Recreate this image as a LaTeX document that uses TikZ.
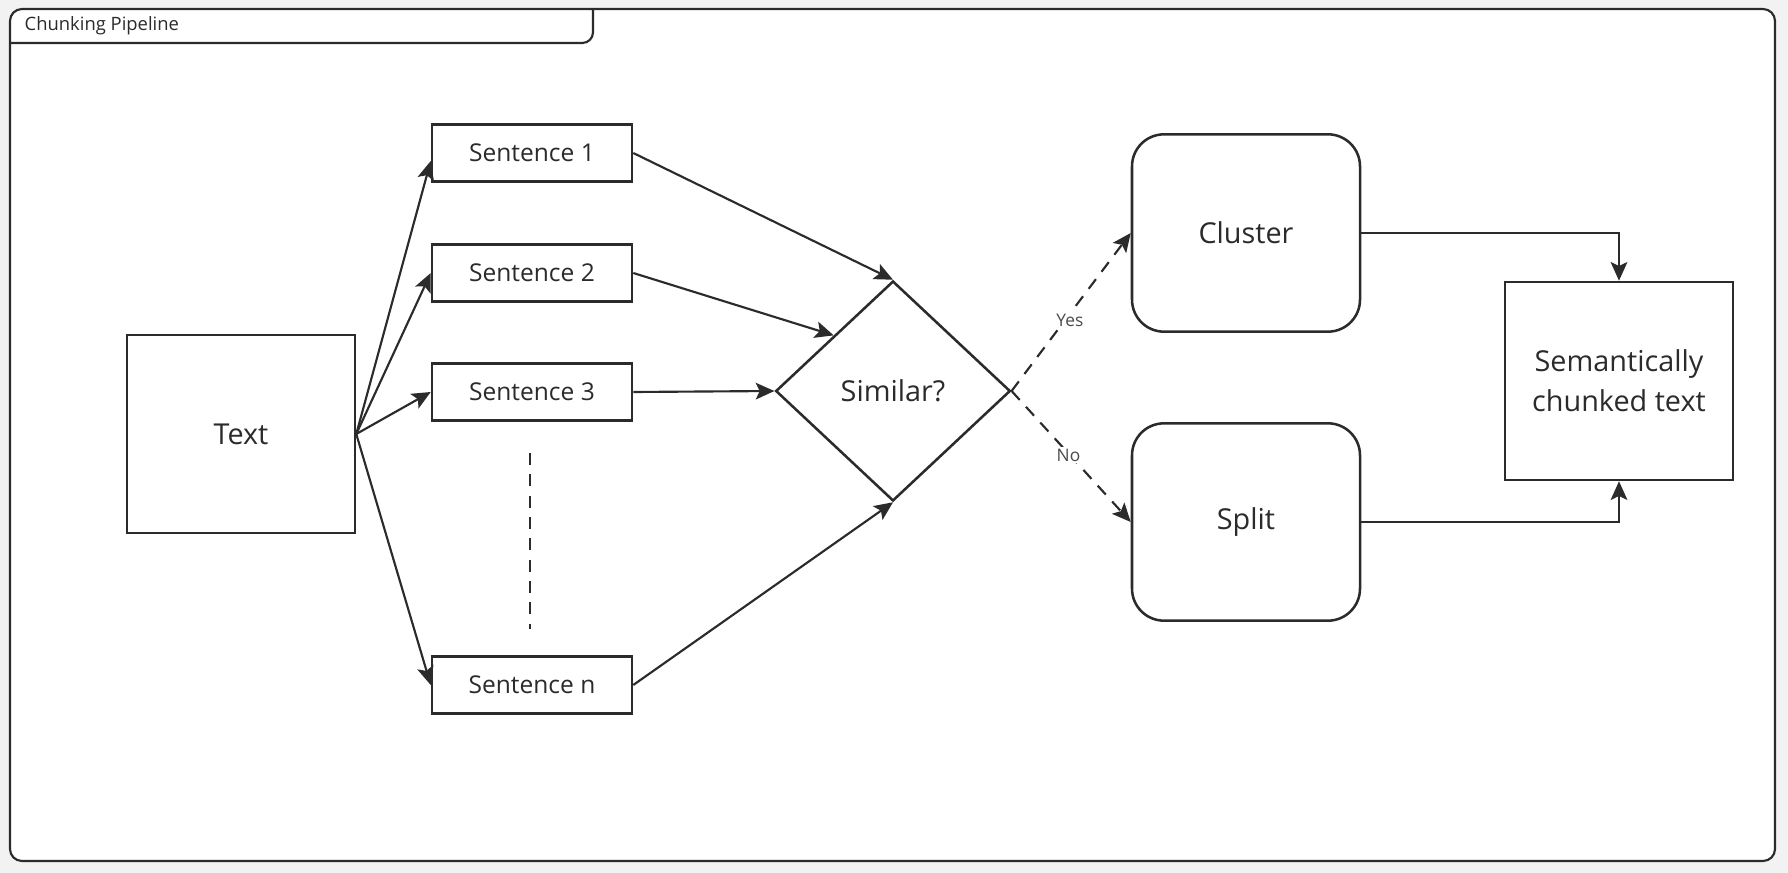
\documentclass[tikz,border=0pt]{standalone}
\usepackage{fontspec}
\setmainfont{Open Sans}
\usetikzlibrary{shapes.geometric,arrows.meta,calc}
\definecolor{ink}{HTML}{2B2B2B}
\definecolor{bg}{HTML}{F2F2F2}
\tikzset{
  box/.style={draw=ink, line width=1.9pt, fill=white, inner sep=2pt, align=center, text=ink},
  bigtxt/.style={font=\fontsize{21.6}{30}\selectfont},
  smalltxt/.style={font=\fontsize{18.4}{22}\selectfont},
  conn/.style={draw=ink, line width=1.6pt, -{Stealth[length=14pt,width=12.5pt,inset=3pt]}},
  dconn/.style={conn, dash pattern=on 9pt off 7pt},
  lbl/.style={font=\fontsize{13}{15}\selectfont, text=ink!85, fill=white, inner sep=1.5pt},
}
\begin{document}
\begin{tikzpicture}[x=0.75pt,y=-0.75pt]
\useasboundingbox (0,0) rectangle (1788,873);
\fill[bg] (0,0) rectangle (1788,873);
% frame
\draw[ink, line width=1.6pt, fill=white, rounded corners=9pt] (10,9) rectangle (1775,861);
\draw[ink, line width=1.6pt, rounded corners=8pt] (10,43) -- (593,43) -- (593,9);
\node[anchor=west, font=\fontsize{13.8}{16}\selectfont, text=ink] (title) at (20,26) {Chunking Pipeline};

% nodes
\node[box, bigtxt, minimum width=171pt, minimum height=148.5pt] (text) at (241,434) {Text};
\node[box, smalltxt, minimum width=150pt, minimum height=42.75pt] (s1) at (532,153) {Sentence 1};
\node[box, smalltxt, minimum width=150pt, minimum height=42.75pt] (s2) at (532,273) {Sentence 2};
\node[box, smalltxt, minimum width=150pt, minimum height=42.75pt] (s3) at (532,392) {Sentence 3};
\node[box, smalltxt, minimum width=150pt, minimum height=42.75pt] (sn) at (532,685) {Sentence n};
\node[box, bigtxt, diamond, inner sep=0pt, minimum width=176pt, minimum height=165pt] (d) at (893,391) {Similar?};
\node[box, bigtxt, rounded corners=24pt, minimum width=171pt, minimum height=148pt] (cl) at (1246,233) {Cluster};
\node[box, bigtxt, rounded corners=24pt, minimum width=171pt, minimum height=148pt] (sp) at (1246,522) {Split};
\node[box, bigtxt, minimum width=171pt, minimum height=148.5pt] (sem) at (1619,381) {Semantically\\chunked text};

% dotted continuation
\coordinate (dtop) at (530,453);
\coordinate (dbot) at (530,629);
\draw[ink, line width=1.5pt, dash pattern=on 9pt off 7pt] (dtop) -- (dbot);

% connectors
\draw[conn] (text.east) -- ([yshift=-6pt]s1.west);
\draw[conn] (text.east) -- (s2.west);
\draw[conn] (text.east) -- (s3.west);
\draw[conn] (text.east) -- (sn.west);
\draw[conn] (s1.east) -- (d.north);
\draw[conn] (s2.east) -- (d.north west);
\draw[conn] (s3.east) -- (d.west);
\draw[conn] (sn.east) -- (d.south);
\draw[dconn] (d.east) -- node[lbl, yshift=-6pt, xshift=-1pt] {Yes} (cl.west);
\draw[dconn] (d.east) -- node[lbl, yshift=1pt, xshift=-2pt] {No} (sp.west);
\draw[conn] (cl.east) -| (sem.north);
\draw[conn] (sp.east) -| (sem.south);
\end{tikzpicture}
\end{document}
